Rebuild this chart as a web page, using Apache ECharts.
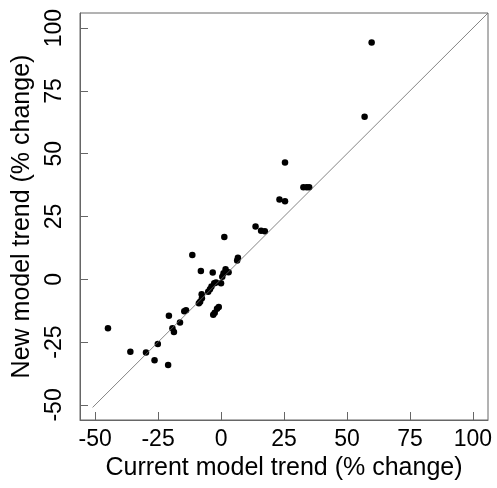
<!DOCTYPE html>
<html><head><meta charset="utf-8">
<script src="https://cdn.jsdelivr.net/npm/echarts@6/dist/echarts.min.js"></script>
<style>html,body{margin:0;padding:0;background:#fff}#c{width:497px;height:488px}</style>
</head><body><div id="c"></div>
<script>
var currentTrend = [-44.9,-36.0,-29.8,-26.4,-25.1,-21.0,-20.7,-19.3,-18.7,-16.3,-14.6,-13.9,-11.4,-8.0,-8.8,-8.3,-7.6,-7.7,-5.1,-4.4,-3.8,-3.3,-3.1,-2.5,-1.6,-0.9,-2.7,-2.0,0.0,0.5,1.0,1.8,3.0,6.4,6.7,1.3,13.7,15.9,17.4,23.2,25.4,25.4,32.7,34.0,35.0,57.0,59.8];
var newTrend     = [-19.5,-28.8,-29.1,-32.2,-25.7,-34.1,-14.5,-19.5,-21.0,-17.2,-12.7,-12.3,9.7,3.3,-9.5,-8.9,-7.5,-5.9,-5.0,-4.0,-2.9,2.7,-14.1,-13.3,-11.7,-11.0,-1.6,-1.3,-1.6,1.0,2.4,4.0,2.8,7.5,8.6,16.8,21.0,19.3,19.1,31.8,31.1,46.5,36.6,36.6,36.6,64.7,94.3];
var tickValues = [-50,-25,0,25,50,75,100];
var axisRange = [-56, 106];
var identityLine = [-51, 106];
var xTitle = 'Current model trend (% change)';
var yTitle = 'New model trend (% change)';

var pts = currentTrend.map(function(v,i){return [v,newTrend[i]];});
var font = 'Liberation Sans, Arial, sans-serif';
function axis(name, isY){
  return {
    type:'value', min:axisRange[0], max:axisRange[1],
    name:name, nameLocation:'middle', nameGap:isY?45:36,
    nameTextStyle:{fontFamily:font,fontSize:25,color:'#000'},
    axisLine:{show:true,onZero:false,lineStyle:{color:'#666',width:1}},
    axisTick:{show:true,inside:true,length:8,customValues:tickValues,lineStyle:{color:'#666'}},
    axisLabel:{customValues:tickValues,fontFamily:font,fontSize:23,color:'#000',margin:isY?14:8,rotate:isY?90:0},
    splitLine:{show:false}
  };
}
var chart = echarts.init(document.getElementById('c'),null,{renderer:'canvas'});
chart.setOption({
  animation:false,
  grid:{left:80,top:13,right:9,bottom:68,show:true,borderColor:'#666',borderWidth:1},
  xAxis:axis(xTitle,false),
  yAxis:axis(yTitle,true),
  series:[
    {type:'line',data:[[identityLine[0],identityLine[0]],[identityLine[1],identityLine[1]]],symbol:'none',lineStyle:{color:'#666',width:0.8},silent:true},
    {type:'scatter',data:pts,symbolSize:6.5,itemStyle:{color:'#000',opacity:1}}
  ]
});
</script></body></html>
